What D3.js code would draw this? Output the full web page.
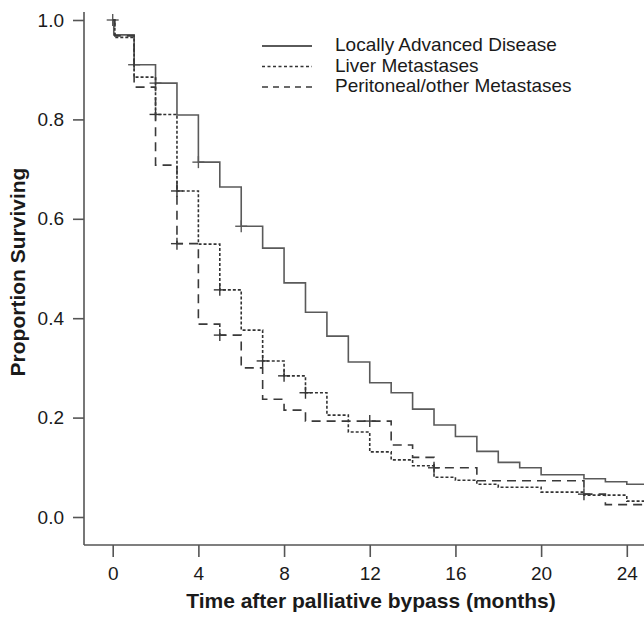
<!DOCTYPE html>
<html>
<head>
<meta charset="utf-8">
<script src="https://cdn.jsdelivr.net/npm/d3@7"></script>
<style>
    body { margin: 0; background: #fff; }
    svg { display: block; font-family: Arial, "Liberation Sans", sans-serif; }
</style>
</head>
<body>
<svg id="mysvg" width="644" height="617"></svg>
<script>
// Kaplan-Meier steps (time in months, proportion surviving)
var locallyTimes = [0, 0.05, 1, 2, 3, 4, 5, 6, 7, 8, 9, 10, 11, 12, 13, 14, 15, 16, 17, 18, 19, 20, 22, 23, 24, 25];
var locallySurv = [1.0, 0.97, 0.91, 0.873, 0.809, 0.714, 0.664, 0.585, 0.541, 0.471, 0.412, 0.364, 0.312, 0.27, 0.25, 0.217, 0.185, 0.162, 0.132, 0.11, 0.099, 0.085, 0.077, 0.071, 0.066, 0.066];
var locallyCensor = [[0, 1.0], [1, 0.91], [2, 0.873], [4, 0.714], [6, 0.585]];

var liverTimes = [0, 0.1, 1, 2, 3, 4, 5, 6, 7, 8, 9, 10, 11, 12, 13, 14, 15, 16, 17, 18, 20, 22, 24, 25];
var liverSurv = [1.0, 0.965, 0.885, 0.81, 0.656, 0.549, 0.457, 0.376, 0.314, 0.284, 0.25, 0.205, 0.171, 0.131, 0.115, 0.103, 0.08, 0.074, 0.066, 0.06, 0.05, 0.044, 0.032, 0.032];
var liverCensor = [[2, 0.81], [3, 0.656], [5, 0.457], [7, 0.314], [8, 0.284], [9, 0.25]];

var periTimes = [0, 0.1, 1, 2, 3, 4, 5, 6, 7, 8, 9, 13, 14, 15, 17, 22, 23, 25];
var periSurv = [1.0, 0.968, 0.865, 0.708, 0.55, 0.388, 0.366, 0.30, 0.237, 0.215, 0.193, 0.145, 0.12, 0.099, 0.073, 0.046, 0.025, 0.025];
var periCensor = [[3, 0.55], [5, 0.366], [12, 0.193], [15, 0.099], [22, 0.046]];

var xTicks = [0, 4, 8, 12, 16, 20, 24];
var yTicks = [0.0, 0.2, 0.4, 0.6, 0.8, 1.0];
var legendNames = ["Locally Advanced Disease", "Liver Metastases", "Peritoneal/other Metastases"];

var svg = d3.select("svg");

// Scales
var x = d3.scaleLinear().domain([0, 24]).range([112.7, 626.8]);
var y = d3.scaleLinear().domain([0, 1]).range([517, 20]);

var axisColor = "#555";
var textColor = "#1a1a1a";

// Axis lines (drawn separately, the frame is longer than the data range)
svg.append("line")
    .attr("x1", 84).attr("x2", 84)
    .attr("y1", 12).attr("y2", 545)
    .attr("stroke", axisColor).attr("stroke-width", 1.6);
svg.append("line")
    .attr("x1", 84).attr("x2", 644)
    .attr("y1", 545).attr("y2", 545)
    .attr("stroke", axisColor).attr("stroke-width", 1.6);

// x ticks
var gx = svg.append("g")
    .attr("transform", "translate(0,545)")
    .call(d3.axisBottom(x).tickValues(xTicks).tickSize(12).tickPadding(10).tickFormat(d3.format("d")));
gx.select(".domain").remove();
gx.selectAll(".tick line").attr("stroke", axisColor).attr("stroke-width", 1.6);
gx.selectAll(".tick text")
    .attr("fill", textColor)
    .attr("font-size", "19px")
    .attr("font-family", "Arial, 'Liberation Sans', sans-serif");

// y ticks
var gy = svg.append("g")
    .attr("transform", "translate(84,0)")
    .call(d3.axisLeft(y).tickValues(yTicks).tickSize(11).tickPadding(9).tickFormat(d3.format(".1f")));
gy.select(".domain").remove();
gy.selectAll(".tick line").attr("stroke", axisColor).attr("stroke-width", 1.6);
gy.selectAll(".tick text")
    .attr("fill", textColor)
    .attr("font-size", "19px")
    .attr("font-family", "Arial, 'Liberation Sans', sans-serif");

// Axis titles
svg.append("text")
    .attr("x", 371)
    .attr("y", 608)
    .attr("text-anchor", "middle")
    .attr("fill", textColor)
    .attr("font-weight", "bold")
    .attr("font-size", "21px")
    .text("Time after palliative bypass (months)");

svg.append("text")
    .attr("transform", "translate(25,272) rotate(-90)")
    .attr("text-anchor", "middle")
    .attr("fill", textColor)
    .attr("font-weight", "bold")
    .attr("font-size", "21px")
    .text("Proportion Surviving");

// Survival curves
var series = [
    { times: locallyTimes, surv: locallySurv, censor: locallyCensor, color: "#5a5a5a", dash: null, legendDash: null },
    { times: liverTimes, surv: liverSurv, censor: liverCensor, color: "#333", dash: "3,2", legendDash: "3,2.5" },
    { times: periTimes, surv: periSurv, censor: periCensor, color: "#3a3a3a", dash: "9,6", legendDash: "6,5" }
];

var line = d3.line()
    .x(function (d) { return x(d[0]); })
    .y(function (d) { return y(d[1]); })
    .curve(d3.curveStepAfter);

series.forEach(function (s) {
    var pts = s.times.map(function (t, i) { return [t, s.surv[i]]; });
    svg.append("path")
        .datum(pts)
        .attr("d", line)
        .attr("fill", "none")
        .attr("stroke", s.color)
        .attr("stroke-width", 1.6)
        .attr("stroke-dasharray", s.dash);

    // censor marks
    var g = svg.append("g");
    g.selectAll(".cv")
        .data(s.censor)
        .enter().append("line")
        .attr("x1", function (d) { return x(d[0]); })
        .attr("x2", function (d) { return x(d[0]); })
        .attr("y1", function (d) { return y(d[1]) - 6; })
        .attr("y2", function (d) { return y(d[1]) + 6; })
        .attr("stroke", s.color).attr("stroke-width", 1.4);
    g.selectAll(".ch")
        .data(s.censor)
        .enter().append("line")
        .attr("x1", function (d) { return x(d[0]) - 6; })
        .attr("x2", function (d) { return x(d[0]) + 6; })
        .attr("y1", function (d) { return y(d[1]); })
        .attr("y2", function (d) { return y(d[1]); })
        .attr("stroke", s.color).attr("stroke-width", 1.4);
});

// Legend
var legend = svg.append("g");
legendNames.forEach(function (name, i) {
    var ly = 46 + i * 20.5;
    legend.append("line")
        .attr("x1", 262).attr("x2", 312)
        .attr("y1", ly).attr("y2", ly)
        .attr("stroke", series[i].color)
        .attr("stroke-width", i === 0 ? 2 : 1.6)
        .attr("stroke-dasharray", series[i].legendDash);
    legend.append("text")
        .attr("x", 335)
        .attr("y", ly + 5)
        .attr("fill", textColor)
        .attr("font-size", "19px")
        .text(name);
});
</script>
</body>
</html>
